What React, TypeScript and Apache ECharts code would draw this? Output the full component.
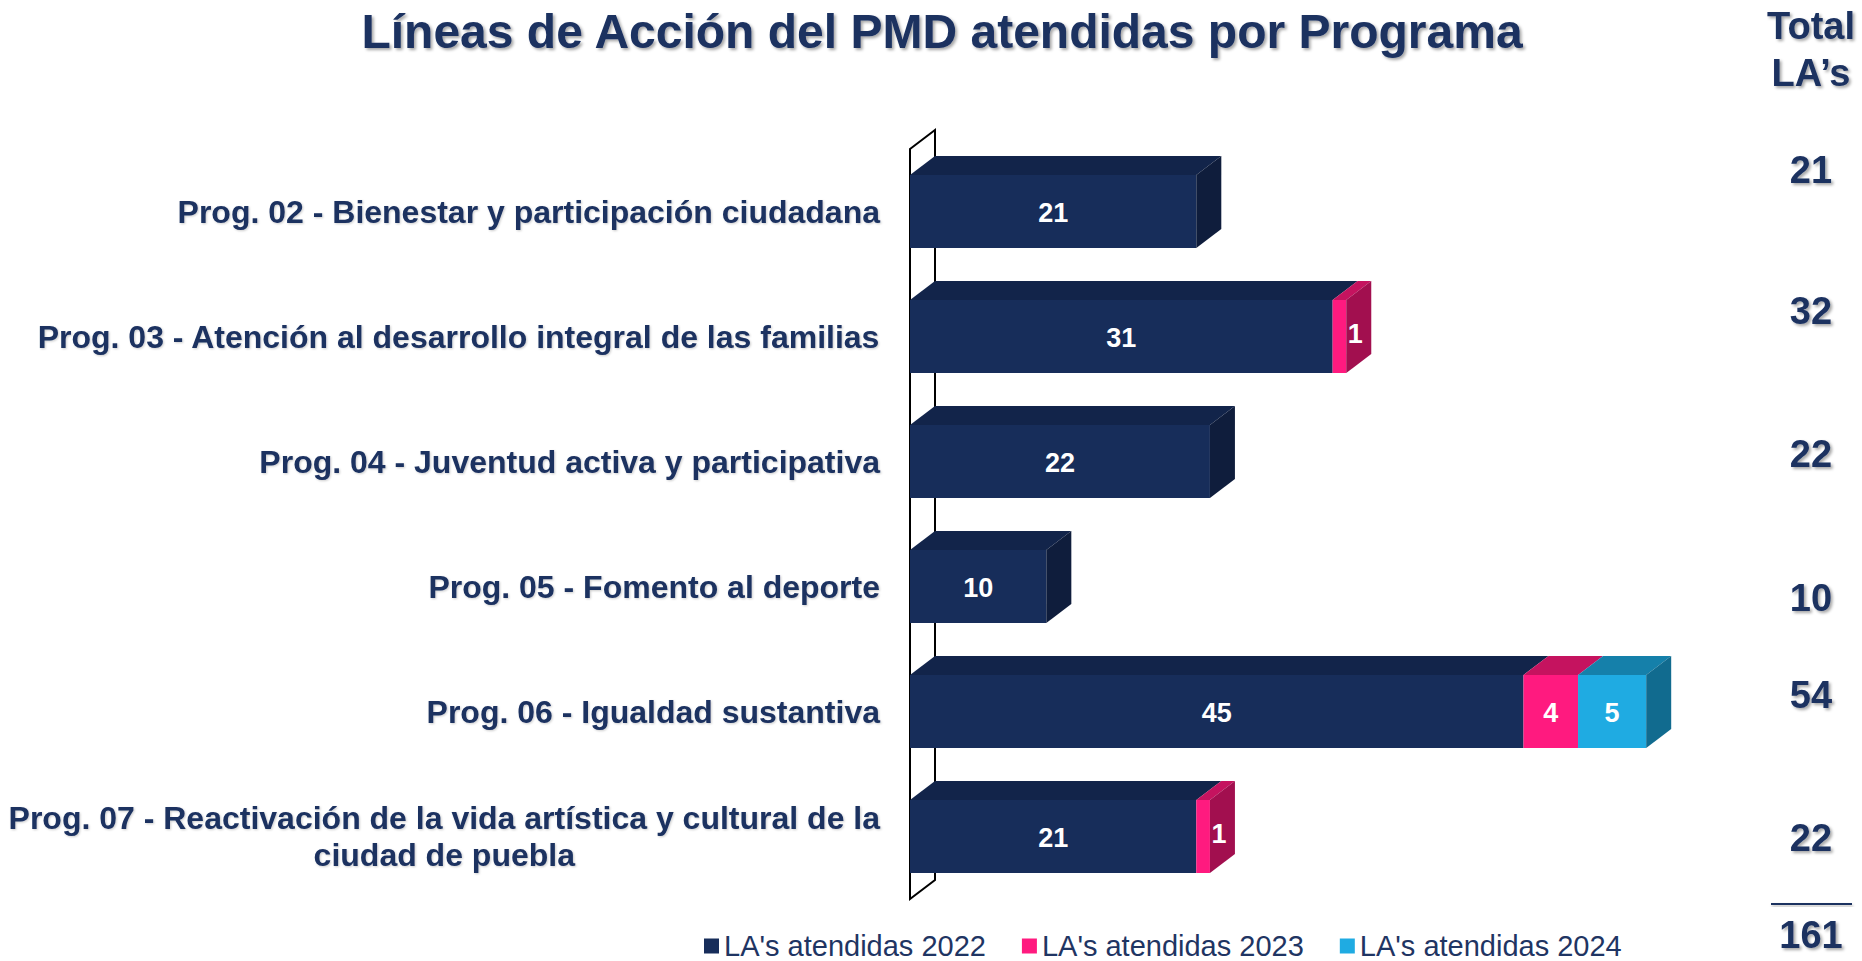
import React, { useEffect, useRef } from 'react';
import * as echarts from 'echarts';

// ---------- data ----------
const categories = [
  'Prog. 02 - Bienestar y participación ciudadana',
  'Prog. 03 - Atención al desarrollo integral de las familias',
  'Prog. 04 - Juventud activa y participativa',
  'Prog. 05 - Fomento al deporte',
  'Prog. 06 - Igualdad sustantiva',
  'Prog. 07 - Reactivación de la vida artística y cultural de la\nciudad de puebla',
];
const seriesNames = ["LA's atendidas 2022", "LA's atendidas 2023", "LA's atendidas 2024"];
const la2022 = [21, 31, 22, 10, 45, 21];
const la2023 = [0, 1, 0, 0, 4, 1];
const la2024 = [0, 0, 0, 0, 5, 0];
const titleText = 'Líneas de Acción del PMD atendidas por Programa';
const totalHeader = ['Total', 'LA’s'];

// ---------- layout / style ----------
const FONT = '"Liberation Sans", Arial, sans-serif';
const NAVY_TEXT = '#1b3161';
const GRID_LEFT = 910;
const GRID_TOP = 149;
const GRID_H = 750;
const GRID_W = 818;
const X_MAX = 60;
const DX = 25;
const DY = 19;
const BAR_RATIO = 0.584;
const TOTAL_X = 1811;
const TOTAL_Y = [170, 311, 454, 598, 695, 838];
const SUM_LINE_Y = 904;
const GRAND_Y = 935;

const palettes = [
  { front: '#172d5a', top: '#12244a', side: '#0f1d3c' },
  { front: '#ff1a7f', top: '#c5135f', side: '#a20f4f' },
  { front: '#1fabe2', top: '#1580aa', side: '#116b8f' },
];

const yearSeries = [la2022, la2023, la2024];
const lastIdx = categories.map((_, i) => {
  let l = -1;
  yearSeries.forEach((arr, k) => {
    if (arr[i] > 0) l = k;
  });
  return l;
});
const stackedData = yearSeries.map((arr, k) =>
  arr
    .map((v, i) => {
      const base = yearSeries.slice(0, k).reduce((s, a) => s + a[i], 0);
      return [i, base, base + v, lastIdx[i] === k ? 1 : 0];
    })
    .filter((d) => d[2] - d[1] > 0)
);
const totals = categories.map((_, i) => yearSeries.reduce((s, a) => s + a[i], 0));
const grandTotal = totals.reduce((s, v) => s + v, 0);

const shadow = {
  textShadowColor: 'rgba(0,0,0,0.35)',
  textShadowBlur: 3,
  textShadowOffsetX: 2,
  textShadowOffsetY: 2,
};

function makeRender(k: number) {
  const pal = palettes[k];
  return (params: any, api: any) => {
    const cat = api.value(0);
    const s = api.value(1);
    const e = api.value(2);
    const last = api.value(3);
    const v = e - s;
    const p0 = api.coord([s, cat]);
    const p1 = api.coord([e, cat]);
    const band = api.size([0, 1])[1];
    const h = band * BAR_RATIO;
    const yT = p0[1] - h / 2;
    const yB = p0[1] + h / 2;
    const x0 = p0[0];
    const x1 = p1[0];
    const children: any[] = [
      {
        type: 'rect',
        shape: { x: x0, y: yT, width: x1 - x0, height: h },
        style: { fill: pal.front },
      },
      {
        type: 'polygon',
        shape: {
          points: [
            [x0, yT],
            [x1, yT],
            [x1 + DX, yT - DY],
            [x0 + DX, yT - DY],
          ],
        },
        style: { fill: pal.top },
      },
    ];
    if (last) {
      children.push({
        type: 'polygon',
        shape: {
          points: [
            [x1, yT],
            [x1 + DX, yT - DY],
            [x1 + DX, yB - DY],
            [x1, yB],
          ],
        },
        style: { fill: pal.side },
      });
    }
    const narrow = x1 - x0 < 30;
    children.push({
      type: 'text',
      x: narrow ? x1 + 9 : (x0 + x1) / 2,
      y: narrow ? p0[1] - 3 : p0[1] + 1,
      style: {
        text: String(v),
        fill: '#ffffff',
        fontSize: 27,
        fontWeight: 'bold',
        fontFamily: FONT,
        align: 'center',
        verticalAlign: 'middle',
      },
    });
    return { type: 'group', children };
  };
}

export default function App() {
  const ref = useRef<HTMLDivElement>(null);
  useEffect(() => {
    if (!ref.current) return;
    const chart = echarts.init(ref.current, undefined, { renderer: 'svg' });

    const totalText = (text: string, y: number) => ({
      type: 'text',
      x: TOTAL_X,
      y,
      style: {
        text,
        fill: NAVY_TEXT,
        fontSize: 38,
        fontWeight: 'bold',
        fontFamily: FONT,
        align: 'center',
        verticalAlign: 'middle',
        ...shadow,
      },
    });

    const graphics: any[] = [
      {
        type: 'polygon',
        z: -1,
        shape: {
          points: [
            [GRID_LEFT, GRID_TOP],
            [GRID_LEFT + DX, GRID_TOP - DY],
            [GRID_LEFT + DX, GRID_TOP + GRID_H - DY],
            [GRID_LEFT, GRID_TOP + GRID_H],
          ],
        },
        style: { fill: '#ffffff', stroke: '#000000', lineWidth: 2 },
      },
      totalText(totalHeader[0], 26),
      totalText(totalHeader[1], 73),
      ...totals.map((t, i) => totalText(String(t), TOTAL_Y[i])),
      {
        type: 'rect',
        shape: { x: 1771, y: SUM_LINE_Y - 1, width: 81, height: 2 },
        style: {
          fill: NAVY_TEXT,
          shadowColor: 'rgba(0,0,0,0.3)',
          shadowBlur: 3,
          shadowOffsetX: 1,
          shadowOffsetY: 2,
        },
      },
      totalText(String(grandTotal), GRAND_Y),
    ];

    chart.setOption({
      animation: false,
      backgroundColor: '#ffffff',
      title: {
        text: titleText,
        left: 937,
        top: 2,
        textAlign: 'center',
        textStyle: {
          color: NAVY_TEXT,
          fontSize: 48,
          fontWeight: 'bold',
          fontFamily: FONT,
          ...shadow,
        },
      },
      legend: {
        data: seriesNames,
        left: 699,
        top: 926,
        itemWidth: 15,
        itemHeight: 15,
        itemGap: 36,
        icon: 'rect',
        textStyle: { color: '#1f3563', fontSize: 29, fontFamily: FONT, lineHeight: 30 },
      },
      grid: {
        left: GRID_LEFT,
        top: GRID_TOP,
        width: GRID_W,
        height: GRID_H,
        containLabel: false,
        outerBoundsMode: 'none',
      },
      xAxis: {
        type: 'value',
        min: 0,
        max: X_MAX,
        show: false,
      },
      yAxis: {
        type: 'category',
        data: categories,
        inverse: true,
        axisLine: { show: false },
        axisTick: { show: false },
        splitLine: { show: false },
        axisLabel: {
          margin: 30,
          color: NAVY_TEXT,
          fontSize: 32,
          fontWeight: 'bold',
          fontFamily: FONT,
          lineHeight: 37,
          formatter: (v: string) =>
            v
              .split('\n')
              .map((l) => `{c|${l}}`)
              .join('\n'),
          rich: {
            c: {
              align: 'center',
              color: NAVY_TEXT,
              fontSize: 32,
              fontWeight: 'bold',
              fontFamily: FONT,
              lineHeight: 37,
              textShadowColor: 'rgba(0,0,0,0.2)',
              textShadowBlur: 2,
              textShadowOffsetX: 1,
              textShadowOffsetY: 1,
            },
          },
        },
      },
      graphic: graphics,
      series: seriesNames.map((name, k) => ({
        type: 'custom',
        name,
        renderItem: makeRender(k),
        encode: { x: [1, 2], y: 0 },
        itemStyle: { color: palettes[k].front },
        data: stackedData[k],
      })),
    });

    return () => chart.dispose();
  }, []);

  return (
    <div
      ref={ref}
      style={{ position: 'fixed', left: 0, top: 0, width: 1862, height: 961 }}
    />
  );
}
